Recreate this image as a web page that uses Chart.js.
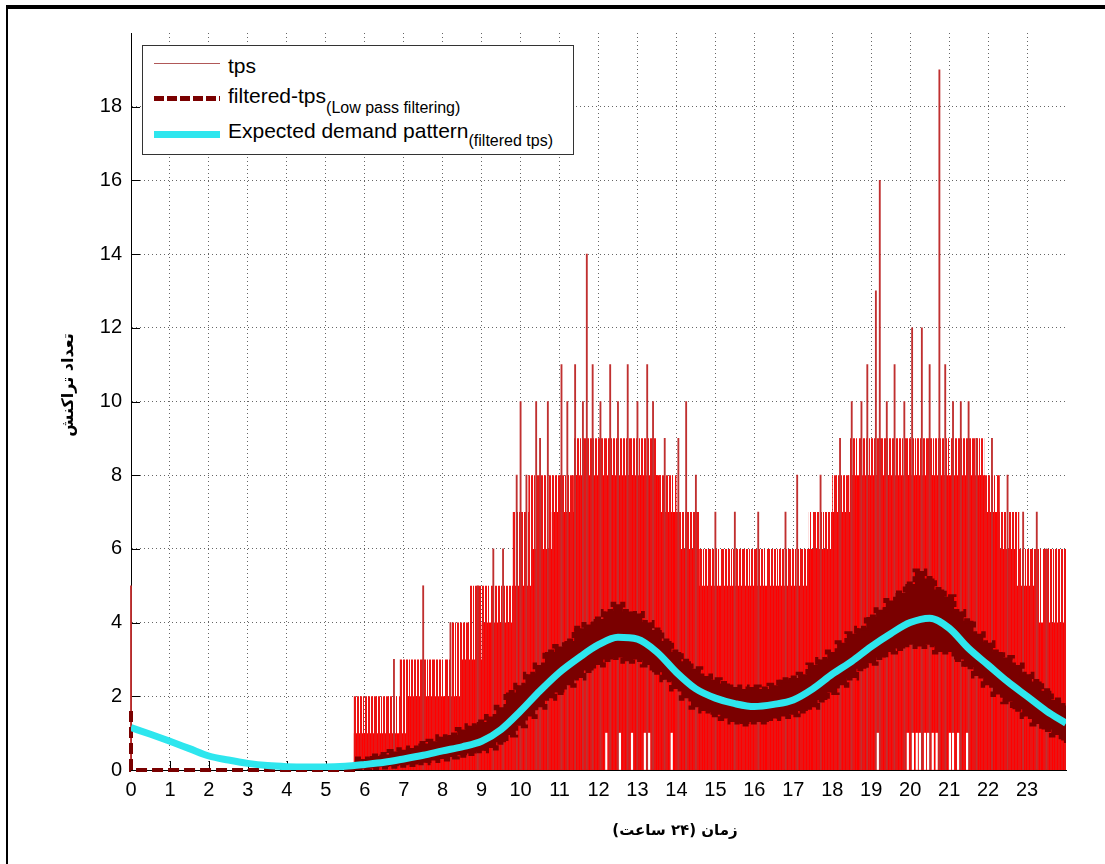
<!DOCTYPE html>
<html><head><meta charset="utf-8">
<script src="https://cdn.jsdelivr.net/npm/chart.js@4.4.0/dist/chart.umd.min.js"></script>
<style>
html,body{margin:0;padding:0;background:#fff;}
#wrap{position:relative;width:1105px;height:864px;overflow:hidden;background:#fff;}
#c{position:absolute;left:0;top:0;}
#frame{position:absolute;left:6px;top:5px;width:1099px;height:859px;border-top:4px solid #000;border-left:2px solid #000;box-sizing:border-box;pointer-events:none;}
#legend{position:absolute;left:142px;top:45px;width:432px;height:110px;border:1px solid #333;background:#fff;box-sizing:border-box;}
.lt{position:absolute;left:85px;font-family:"Liberation Sans",Arial,sans-serif;font-size:21px;line-height:1;white-space:nowrap;color:#000;}
.sub{font-size:16px;position:relative;top:10px;}
.sw{position:absolute;left:11px;width:66px;}
.ttl{position:absolute;font-family:"DejaVu Sans",sans-serif;font-weight:bold;font-size:15px;line-height:20px;height:20px;white-space:nowrap;text-align:center;color:#000;}
</style></head>
<body>
<div id="wrap">
<canvas id="c" width="1105" height="864"></canvas>
<div id="legend">
  <div class="sw" style="top:17px;height:1px;background:#b05858;"></div>
  <div class="lt" style="top:9px;">tps</div>
  <div class="sw" style="top:50px;height:5px;background:repeating-linear-gradient(to right,#7a0000 0 10px,transparent 10px 13px);"></div>
  <div class="lt" style="top:39px;">filtered-tps<span class="sub">(Low pass filtering)</span></div>
  <div class="sw" style="top:85px;height:7px;background:#2ee6ee;"></div>
  <div class="lt" style="top:74px;">Expected demand pattern<span class="sub" style="top:8px;">(filtered tps)</span></div>
</div>
<div class="ttl" dir="rtl" style="left:575px;top:820px;width:200px;">زمان (۲۴ ساعت)</div>
<div class="ttl" dir="rtl" style="left:-32px;top:375px;width:200px;font-size:16px;transform:rotate(-90deg);transform-origin:50% 50%;">تعداد تراکنش</div>
<div id="frame"></div>
</div>
<script>
// ---- tick labels ----
const xTicks = [0,1,2,3,4,5,6,7,8,9,10,11,12,13,14,15,16,17,18,19,20,21,22,23];
const yTicks = [0,2,4,6,8,10,12,14,16,18];

// ---- tps: dense core level (solid) per segment start ----
const coreX = [0, 5.72, 7.1, 8.45, 9.0, 9.8, 10.3, 10.8, 11.35, 13.6, 14.1, 14.6, 17.4, 18.0, 18.45, 21.9, 22.3, 22.7, 23.3, 24];
const coreY = [0, 1,    2,   3,    4,   5,   6,    7,    8,     7,    6,    5,    6,    7,    8,     7,    6,    5,    4,    4];
// ---- tps: fringe level (frequent spikes) per segment start ----
const fringeX = [0, 5.72, 6.9, 8.2, 8.7, 9.8, 10.2, 11.35, 13.5, 14.0, 14.6, 17.4, 18.0, 18.45, 21.9, 22.3, 22.8, 23.3, 24];
const fringeY = [0, 2,    3,   4,   5,   7,   8,    9,     8,    7,    6,    7,    8,    9,     8,    7,    6,    6,    6];
// ---- tps: isolated tall spikes ----
const spikeX = [0, 6.75, 7.5, 8.2, 8.9, 9.3, 9.55, 9.9, 10.0, 10.15, 10.4, 10.5, 10.7, 11.05, 11.2, 11.4, 11.6, 11.7, 11.85, 12.05, 12.3, 12.5, 12.75, 13.0, 13.25, 13.4, 13.7, 14.05, 14.25, 14.5, 15.0, 15.5, 16.1, 16.8, 17.1, 17.7, 18.2, 18.5, 18.75, 18.9, 19.12, 19.22, 19.4, 19.6, 19.85, 20.05, 20.3, 20.5, 20.75, 20.9, 21.1, 21.3, 21.5, 21.7, 22.1, 22.5, 22.9, 23.25, 23.5];
const spikeY = [5, 3,    5,   4,   5,   6,   6,    8,   10,   8,     10,   9,    10,   11,    10,   11,   10,   14,   11,    10,    11,   10,   11,    10,   11,    10,   9,    9,     10,    8,    7,    7,    7,    7,    8,    8,    9,    10,   10,    11,   13,    16,    10,   11,   10,    12,    12,   11,   19,    11,   10,   10,   10,   9,    9,    8,    7,    7,     6];
// ---- tps: short dips (white gaps at the bottom) ----
const gapX = [12.2, 12.55, 12.86, 13.19, 13.3, 13.88, 19.17, 19.94, 20.07, 20.17, 20.25, 20.38, 20.46, 20.58, 20.68, 21.02, 21.1, 21.23, 21.46];
const gapTop = [1, 1, 1, 1, 1, 1, 1, 1, 1, 1, 1, 1, 1, 1, 1, 1, 1, 1, 1];

// ---- filtered-tps ----
const filtStartX = [0, 0, 5.75];
const filtStartY = [1.6, 0, 0];
const bandX  = [5.75, 6, 6.25, 6.5, 6.75, 7, 7.25, 7.5, 7.75, 8, 8.25, 8.5, 8.75, 9, 9.25, 9.5, 9.75, 10, 10.25, 10.5, 10.75, 11, 11.25, 11.5, 11.75, 12, 12.25, 12.5, 12.75, 13, 13.25, 13.5, 13.75, 14, 14.25, 14.5, 14.75, 15, 15.25, 15.5, 15.75, 16, 16.25, 16.5, 16.75, 17, 17.25, 17.5, 17.75, 18, 18.25, 18.5, 18.75, 19, 19.25, 19.5, 19.75, 20, 20.25, 20.5, 20.75, 21, 21.25, 21.5, 21.75, 22, 22.25, 22.5, 22.75, 23, 23.25, 23.5, 23.75, 24];
const bandHi = [0.3, 0.3, 0.38, 0.42, 0.5, 0.55, 0.6, 0.72, 0.78, 0.9, 0.95, 1.1, 1.2, 1.3, 1.45, 1.7, 2.1, 2.3, 2.6, 2.85, 3.2, 3.35, 3.5, 3.85, 3.95, 4.1, 4.3, 4.5, 4.3, 4.25, 4.0, 3.8, 3.5, 3.2, 2.95, 2.75, 2.55, 2.45, 2.35, 2.25, 2.2, 2.25, 2.2, 2.3, 2.45, 2.5, 2.6, 2.85, 3.0, 3.2, 3.45, 3.7, 3.85, 4.15, 4.35, 4.6, 4.8, 5.05, 5.4, 5.2, 4.9, 4.7, 4.3, 4.05, 3.7, 3.45, 3.2, 3.05, 2.85, 2.6, 2.4, 2.15, 1.9, 1.75];
const bandLo = [0.0, 0.03, 0.05, 0.08, 0.1, 0.13, 0.15, 0.2, 0.26, 0.3, 0.35, 0.4, 0.45, 0.52, 0.6, 0.75, 0.95, 1.2, 1.45, 1.7, 1.95, 2.1, 2.3, 2.5, 2.7, 2.85, 3.0, 3.05, 2.95, 3.0, 2.85, 2.65, 2.45, 2.2, 1.95, 1.7, 1.6, 1.5, 1.4, 1.3, 1.25, 1.3, 1.3, 1.4, 1.45, 1.5, 1.6, 1.7, 1.9, 2.1, 2.3, 2.5, 2.75, 2.9, 3.05, 3.2, 3.3, 3.4, 3.35, 3.4, 3.2, 3.2, 3.0, 2.8, 2.55, 2.3, 2.05, 1.85, 1.65, 1.45, 1.25, 1.1, 0.95, 0.8];

// ---- expected demand pattern ----
const demandX = [0, 0.5, 1, 1.5, 2, 2.5, 3, 3.5, 4, 4.5, 5, 5.5, 6, 6.5, 7, 7.5, 8, 8.5, 9, 9.5, 10, 10.5, 11, 11.5, 12, 12.5, 13, 13.5, 14, 14.5, 15, 15.5, 16, 16.5, 17, 17.5, 18, 18.5, 19, 19.5, 20, 20.5, 21, 21.5, 22, 22.5, 23, 23.5, 24];
const demandY = [1.15, 0.97, 0.78, 0.58, 0.38, 0.27, 0.18, 0.12, 0.09, 0.08, 0.08, 0.1, 0.15, 0.21, 0.3, 0.4, 0.52, 0.63, 0.78, 1.1, 1.6, 2.15, 2.65, 3.05, 3.4, 3.6, 3.55, 3.2, 2.65, 2.2, 1.95, 1.8, 1.72, 1.78, 1.9, 2.2, 2.6, 2.95, 3.35, 3.7, 4.0, 4.12, 3.85, 3.3, 2.85, 2.4, 2.0, 1.6, 1.27];

const pts = (xs, ys) => xs.map((x, i) => ({x: x, y: ys[i]}));
const bars = (xs, ys) => xs.map((x, i) => ({x: x, y: [0, ys[i]]}));

const canvas = document.getElementById('c');
const mainCtx = canvas.getContext('2d');
function stripePattern() {
  const bits = '1101101110110101101110110110100111011011010110';
  const cv = document.createElement('canvas');
  cv.width = bits.length; cv.height = 4;
  const g = cv.getContext('2d');
  for (let i = 0; i < bits.length; i++) {
    if (bits[i] === '1') { g.fillStyle = '#ea1414'; g.fillRect(i, 0, 1, 4); }
  }
  return mainCtx.createPattern(cv, 'repeat');
}

const inTicks = {
  id: 'inTicks',
  beforeDatasetsDraw(chart) {
    const {ctx, chartArea: a, scales: {x, y}} = chart;
    ctx.save();
    ctx.strokeStyle = '#000'; ctx.lineWidth = 1;
    ctx.beginPath();
    x.ticks.forEach(t => { const p = Math.round(x.getPixelForValue(t.value)) + 0.5; ctx.moveTo(p, a.bottom); ctx.lineTo(p, a.bottom - 9); });
    y.ticks.forEach(t => { const p = Math.round(y.getPixelForValue(t.value)) + 0.5; ctx.moveTo(a.left, p); ctx.lineTo(a.left + 9, p); });
    ctx.stroke();
    ctx.restore();
  }
};

const tickFont = {family: '"Liberation Sans", Arial, sans-serif', size: 20};
const gridOpts = {color: 'rgba(0,0,0,0.6)', lineWidth: 1, drawTicks: false, offset: false};
const borderOpts = {display: true, color: '#000', width: 1, dash: [1, 3]};

new Chart(canvas, {
  type: 'line',
  data: {
    datasets: [
      {label: 'Expected demand pattern', data: pts(demandX, demandY), borderColor: '#2ee6ee', borderWidth: 7, pointRadius: 0, cubicInterpolationMode: 'monotone', fill: false},
      {label: 'filtered-tps start', data: pts(filtStartX, filtStartY), borderColor: '#7a0000', borderWidth: 4, borderDash: [11, 5], pointRadius: 0, fill: false, clip: false},
      {label: 'filtered-tps hi', data: pts(bandX, bandHi), stepped: 'middle', borderColor: '#7a0000', borderWidth: 5, borderDash: [6, 4], pointRadius: 0, backgroundColor: '#7a0000', fill: '+1'},
      {label: 'filtered-tps lo', data: pts(bandX, bandLo), stepped: 'middle', borderColor: '#7a0000', borderWidth: 5, borderDash: [6, 4], pointRadius: 0, fill: false},
      {type: 'bar', label: 'gaps', data: bars(gapX, gapTop), backgroundColor: '#ffffff', barThickness: 1.5, grouped: false},
      {type: 'bar', label: 'tps spikes', data: bars(spikeX, spikeY), backgroundColor: '#c03030', barThickness: 1.2, grouped: false, clip: false},
      {label: 'tps fringe', data: pts(fringeX, fringeY), stepped: true, borderWidth: 0, pointRadius: 0, backgroundColor: stripePattern(), fill: 'origin'},
      {label: 'tps', data: pts(coreX, coreY), stepped: true, borderWidth: 0, pointRadius: 0, backgroundColor: '#ff0000', fill: 'origin'}
    ]
  },
  options: {
    responsive: false,
    animation: false,
    devicePixelRatio: 1,
    events: [],
    layout: {padding: {left: 0, right: 39, top: 33, bottom: 0}},
    plugins: {legend: {display: false}, tooltip: {enabled: false}},
    scales: {
      x: {
        type: 'linear', min: 0, max: 24, offset: false,
        afterBuildTicks: s => { s.ticks = xTicks.map(v => ({value: v})); },
        afterFit: s => { s.height = 94; },
        ticks: {autoSkip: false, maxRotation: 0, padding: 8, font: tickFont, color: '#000', callback: v => String(v)},
        grid: gridOpts, border: borderOpts
      },
      y: {
        type: 'linear', min: 0, max: 20, offset: false,
        afterBuildTicks: s => { s.ticks = yTicks.map(v => ({value: v})); },
        afterFit: s => { s.width = 131; },
        ticks: {padding: 9, font: tickFont, color: '#000', callback: v => String(v)},
        grid: gridOpts, border: borderOpts
      }
    }
  },
  plugins: [inTicks]
});
</script>
</body></html>
